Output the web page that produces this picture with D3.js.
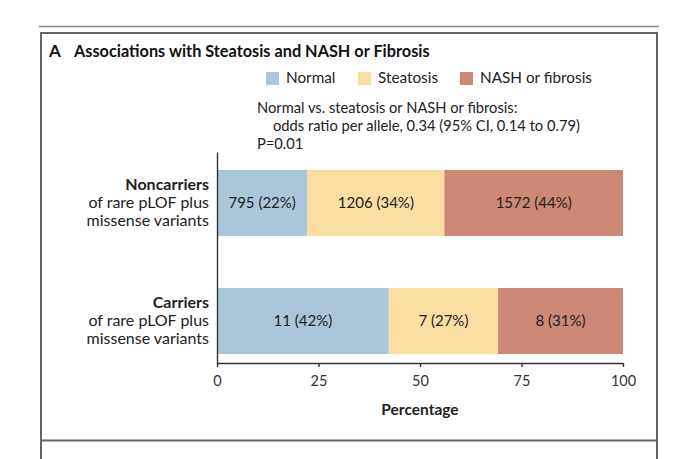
<!DOCTYPE html>
<html>
<head>
<meta charset="utf-8">
<script src="https://cdn.jsdelivr.net/npm/d3@7"></script>
<style>
  body { margin: 0; background: #fff; }
  svg { display: block; font-family: Lato, "Open Sans", sans-serif; }
  .axis text { font-size: 14.5px; fill: #333; font-family: Lato, sans-serif; }
  .axis path, .axis line { stroke: #333; stroke-width: 1.4; }
</style>
</head>
<body>
<div id="container"></div>
<script>
const WIDTH = 680;
const HEIGHT = 459;

// data
const groups = ['Noncarriers', 'Carriers'];
const subLabels = ['of rare pLOF plus', 'missense variants'];
const statuses = ['Normal', 'Steatosis', 'NASH or fibrosis'];
const noncarrierCounts = [795, 1206, 1572];
const carrierCounts = [11, 7, 8];
const xTicks = [0, 25, 50, 75, 100];
const noteLines = [
  'Normal vs. steatosis or NASH or fibrosis:',
  'odds ratio per allele, 0.34 (95% CI, 0.14 to 0.79)',
  'P=0.01'
];
const colors = ['#aac6d8', '#f8dea1', '#cc8775'];

const PLOT = { LEFT: 217, RIGHT: 623, TOP: 152, BOTTOM: 363 };

const svg = d3.select('#container')
  .append('svg')
    .attr('width', WIDTH)
    .attr('height', HEIGHT);

// frame
svg.append('line')
  .attr('x1', 39).attr('x2', 659).attr('y1', 26.5).attr('y2', 26.5)
  .attr('stroke', '#888').attr('stroke-width', 1.5);
svg.append('path')
  .attr('d', `M41,${HEIGHT + 2}V33H657V${HEIGHT + 2}`)
  .attr('fill', 'none').attr('stroke', '#666').attr('stroke-width', 2);
svg.append('line')
  .attr('x1', 41).attr('x2', 657).attr('y1', 440.5).attr('y2', 440.5)
  .attr('stroke', '#666').attr('stroke-width', 2);

// title
svg.append('text')
  .attr('x', 49).attr('y', 57)
  .attr('font-size', 17).attr('font-weight', 'bold').attr('fill', '#111')
  .text('A');
svg.append('text')
  .attr('x', 74).attr('y', 57)
  .attr('font-size', 16.3).attr('font-weight', 'bold').attr('fill', '#111')
  .text('Associations with Steatosis and NASH or Fibrosis');

// legend
const legendX = [266, 358, 460];
const legend = svg.selectAll('.legend')
  .data(statuses)
  .enter()
  .append('g')
    .attr('class', 'legend')
    .attr('transform', (d, i) => `translate(${legendX[i]}, 72)`);
legend.append('rect')
  .attr('width', 13).attr('height', 13)
  .attr('fill', (d, i) => colors[i]);
legend.append('text')
  .attr('x', 20).attr('y', 11)
  .attr('font-size', 15.3).attr('fill', '#222')
  .text(d => d);

// note
const noteX = [257, 273, 257];
svg.append('text')
  .attr('font-size', 14.7).attr('fill', '#222')
  .selectAll('tspan')
  .data(noteLines)
  .enter()
  .append('tspan')
    .attr('x', (d, i) => noteX[i])
    .attr('y', (d, i) => 113 + i * 18)
    .text(d => d);

// scales
const x = d3.scaleLinear()
  .domain([0, 100])
  .range([PLOT.LEFT, PLOT.RIGHT]);

const y = d3.scaleBand()
  .domain(groups)
  .range([PLOT.TOP, PLOT.BOTTOM])
  .paddingInner(0.44)
  .paddingOuter(0.114)
  .align(0.667);

// stacked percentages
const rows = groups.map((g, i) => {
  const counts = i === 0 ? noncarrierCounts : carrierCounts;
  const total = d3.sum(counts);
  const row = { group: g };
  statuses.forEach((s, j) => {
    row[s] = counts[j] / total * 100;
    row[s + '_n'] = counts[j];
  });
  return row;
});

const series = d3.stack().keys(statuses)(rows);

const layers = svg.selectAll('.layer')
  .data(series)
  .enter()
  .append('g')
    .attr('class', 'layer')
    .attr('fill', (d, i) => colors[i]);

layers.selectAll('rect')
  .data(d => d)
  .enter()
  .append('rect')
    .attr('x', d => x(d[0]))
    .attr('y', d => y(d.data.group))
    .attr('width', d => x(d[1]) - x(d[0]))
    .attr('height', y.bandwidth());

layers.each(function (layer) {
  d3.select(this).selectAll('text')
    .data(layer)
    .enter()
    .append('text')
      .attr('x', d => (x(d[0]) + x(d[1])) / 2)
      .attr('y', d => y(d.data.group) + y.bandwidth() / 2)
      .attr('dy', '0.36em')
      .attr('text-anchor', 'middle')
      .attr('font-size', 15)
      .attr('fill', '#222')
      .text(d => `${d.data[layer.key + '_n']} (${Math.round(d.data[layer.key])}%)`);
});

// axes
svg.append('g')
  .attr('class', 'axis')
  .attr('transform', `translate(${PLOT.LEFT}, 0)`)
  .call(d3.axisLeft(y).tickSize(0).tickFormat(''));

const xAxis = svg.append('g')
  .attr('class', 'axis')
  .attr('transform', `translate(0, ${PLOT.BOTTOM})`)
  .call(d3.axisBottom(x).tickValues(xTicks).tickSize(4).tickSizeOuter(0).tickPadding(8));
xAxis.selectAll('text').attr('dy', '0.75em');

svg.append('text')
  .attr('x', x(50)).attr('y', 415)
  .attr('text-anchor', 'middle')
  .attr('font-size', 15.5).attr('font-weight', 'bold').attr('fill', '#222')
  .text('Percentage');

// group labels
const labels = svg.selectAll('.group-label')
  .data(groups)
  .enter()
  .append('text')
    .attr('class', 'group-label')
    .attr('text-anchor', 'end')
    .attr('font-size', 16)
    .attr('fill', '#222');

labels.append('tspan')
  .attr('x', 209)
  .attr('y', d => y(d) + y.bandwidth() / 2 - 13)
  .attr('font-weight', 'bold')
  .text(d => d);

subLabels.forEach((s, i) => {
  labels.append('tspan')
    .attr('x', 209)
    .attr('y', d => y(d) + y.bandwidth() / 2 + 5 + i * 18.5)
    .text(s);
});
</script>
</body>
</html>
